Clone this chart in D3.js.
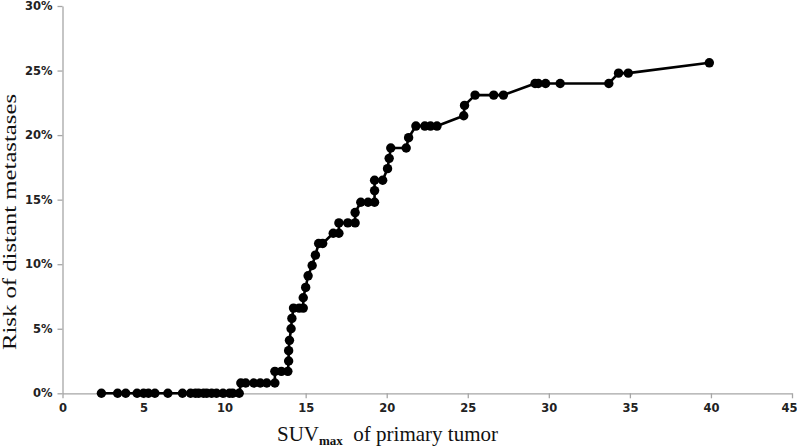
<!DOCTYPE html>
<html>
<head>
<meta charset="utf-8">
<script src="https://cdn.jsdelivr.net/npm/d3@7"></script>
<style>
  body { margin: 0; background: #fff; }
  .tick text { font-family: "DejaVu Sans", sans-serif; font-size: 11.5px; font-weight: bold; fill: #222; }
  .axis path, .axis line { stroke: #a6a6a6; stroke-width: 1.3; }
  .title { font-family: "Liberation Serif", "Times New Roman", serif; fill: #111; }
</style>
</head>
<body>
<div id="chart"></div>
<script>
// SUVmax of primary tumor (x) and cumulative risk of distant metastases (y)
const suvValues = [
  2.4, 3.4, 3.9, 4.6, 5.0, 5.3, 5.7, 6.5, 7.4, 7.9, 8.2, 8.4, 8.7, 8.9, 9.2, 9.5, 9.9, 10.3, 10.5, 10.9,
  11.0, 11.3, 11.8, 12.2, 12.6, 13.1,
  13.1, 13.5, 13.9,
  13.95, 13.95, 14.0, 14.1, 14.15,
  14.25, 14.6, 14.85,
  14.85, 15.0, 15.15, 15.4, 15.6,
  15.8, 16.05,
  16.7, 17.05,
  17.05, 17.6, 18.05,
  18.05,
  18.4, 18.85, 19.25,
  19.25,
  19.25, 19.75,
  20.05, 20.15,
  20.25, 21.2,
  21.35,
  21.8, 22.35, 22.7, 23.1,
  24.75, 24.8,
  25.45, 26.6, 27.2,
  29.15, 29.35, 29.8, 30.7, 33.7,
  34.3, 34.9,
  39.9
];
const riskValues = [
  0, 0, 0, 0, 0, 0, 0, 0, 0, 0, 0, 0, 0, 0, 0, 0, 0, 0, 0, 0,
  0.8, 0.8, 0.8, 0.8, 0.8, 0.8,
  1.7, 1.7, 1.7,
  2.5, 3.3, 4.1, 5.0, 5.8,
  6.6, 6.6, 6.6,
  7.4, 8.2, 9.1, 9.9, 10.7,
  11.6, 11.6,
  12.4, 12.4,
  13.2, 13.2, 13.2,
  14.0,
  14.8, 14.8, 14.8,
  15.7,
  16.5, 16.5,
  17.4, 18.2,
  19.0, 19.0,
  19.8,
  20.7, 20.7, 20.7, 20.7,
  21.5, 22.3,
  23.1, 23.1, 23.1,
  24.0, 24.0, 24.0, 24.0, 24.0,
  24.8, 24.8,
  25.6
];
const xTicks = [0, 5, 10, 15, 20, 25, 30, 35, 40, 45];
const yTicks = [0, 5, 10, 15, 20, 25, 30];

const data = suvValues.map((v, i) => ({ suv: v, risk: riskValues[i] }));

const totalWidth = 797, totalHeight = 448;
const margin = { top: 6, right: 5, bottom: 54.7, left: 62.5 };
const width = totalWidth - margin.left - margin.right;
const height = totalHeight - margin.top - margin.bottom;

const svg = d3.select("#chart")
  .append("svg")
  .attr("width", totalWidth)
  .attr("height", totalHeight)
  .append("g")
  .attr("transform", `translate(${margin.left},${margin.top})`);

const x = d3.scaleLinear().domain([0, 45]).range([0, width]);
const y = d3.scaleLinear().domain([0, 30]).range([height, 0]);

// X axis
const xAxis = svg.append("g")
  .attr("class", "axis")
  .attr("transform", `translate(0,${height})`)
  .call(d3.axisBottom(x).tickValues(xTicks).tickSize(5).tickSizeOuter(0).tickPadding(6).tickFormat(d3.format("d")));

// keep the last label inside the window
xAxis.selectAll(".tick text").filter(d => d === 45).attr("dx", -3);

// Y axis
svg.append("g")
  .attr("class", "axis")
  .call(d3.axisLeft(y).tickValues(yTicks).tickSize(5).tickSizeOuter(0).tickPadding(5).tickFormat(d => d + "%"));

// Line
const line = d3.line()
  .x(d => x(d.suv))
  .y(d => y(d.risk));

svg.append("path")
  .datum(data)
  .attr("fill", "none")
  .attr("stroke", "#000")
  .attr("stroke-width", 2.6)
  .attr("stroke-linejoin", "round")
  .attr("d", line);

// Markers
svg.selectAll("circle")
  .data(data)
  .enter()
  .append("circle")
  .attr("cx", d => x(d.suv))
  .attr("cy", d => y(d.risk))
  .attr("r", 4.7)
  .attr("fill", "#000");

// Axis titles
const root = d3.select("svg");

root.append("text")
  .attr("class", "title")
  .attr("transform", "translate(16,222) rotate(-90)")
  .attr("text-anchor", "middle")
  .attr("font-size", "19px")
  .attr("textLength", 256)
  .attr("lengthAdjust", "spacingAndGlyphs")
  .text("Risk of distant metastases");

const xt = root.append("text")
  .attr("class", "title")
  .attr("x", 277)
  .attr("y", 441)
  .attr("font-size", "21px");
xt.append("tspan").text("SUV");
xt.append("tspan").attr("font-size", "13px").attr("font-weight", "bold").attr("dy", 4).text("max");
xt.append("tspan").attr("dy", -4).text("\u00a0 of primary tumor");
</script>
</body>
</html>
